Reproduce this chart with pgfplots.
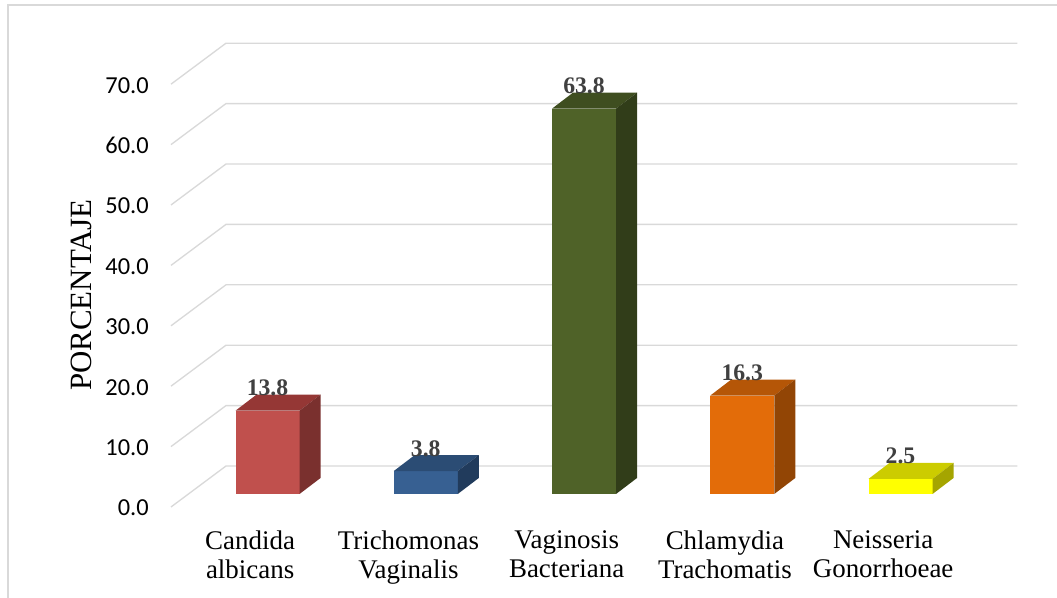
\documentclass[border=0pt]{standalone}
\usepackage{pgfplots}
\pgfplotsset{compat=1.18}
\usepackage{pgfplotstable}
\usepackage{fontspec}
\setmainfont{Liberation Serif}
\newfontfamily\calibri{Carlito}

\definecolor{bf0}{HTML}{C0504D}\definecolor{bt0}{HTML}{953735}\definecolor{bs0}{HTML}{7A302E}
\definecolor{bf1}{HTML}{376092}\definecolor{bt1}{HTML}{2B4C74}\definecolor{bs1}{HTML}{213B5C}
\definecolor{bf2}{HTML}{4F6228}\definecolor{bt2}{HTML}{3F4E20}\definecolor{bs2}{HTML}{313D19}
\definecolor{bf3}{HTML}{E36C09}\definecolor{bt3}{HTML}{B55607}\definecolor{bs3}{HTML}{924505}
\definecolor{bf4}{HTML}{FFFF00}\definecolor{bt4}{HTML}{CCCC00}\definecolor{bs4}{HTML}{A5A500}
\definecolor{gridc}{HTML}{D9D9D9}
\definecolor{lab}{HTML}{404040}

\pgfplotstableread{
x y id
0 13.8 0
1 3.8 1
2 63.8 2
3 16.3 3
4 2.5 4
}\data

% 3D box mark: mark sits at (category, value) on the front plane
\pgfdeclareplotmark{box3d}{%
  \pgfmathsetmacro\hh{\bv*4.53}%
  \pgfmathsetmacro\Bb{9.75-\hh}%
  \pgfmathsetmacro\Bt{\Bb+12}%
  \pgfmathtruncatemacro\ci{\cid}%
  % front
  \pgfpathrectanglecorners{\pgfpoint{-10.95pt}{\Bb pt}}{\pgfpoint{37.05pt}{9.75pt}}%
  \pgfsetfillcolor{bf\ci}\pgfusepath{fill}%
  % top
  \pgfpathmoveto{\pgfpoint{-10.95pt}{9.75pt}}%
  \pgfpathlineto{\pgfpoint{37.05pt}{9.75pt}}%
  \pgfpathlineto{\pgfpoint{52.8pt}{21.75pt}}%
  \pgfpathlineto{\pgfpoint{4.8pt}{21.75pt}}%
  \pgfpathclose
  \pgfsetfillcolor{bt\ci}\pgfusepath{fill}%
  % side
  \pgfpathmoveto{\pgfpoint{37.05pt}{9.75pt}}%
  \pgfpathlineto{\pgfpoint{52.8pt}{21.75pt}}%
  \pgfpathlineto{\pgfpoint{52.8pt}{\Bt pt}}%
  \pgfpathlineto{\pgfpoint{37.05pt}{\Bb pt}}%
  \pgfpathclose
  \pgfsetfillcolor{bs\ci}\pgfusepath{fill}%
}

\begin{document}
\begin{tikzpicture}
\begin{axis}[
  x=118.6875pt, y=4.53pt,
  xmin=-0.5, xmax=4.5, ymin=0, ymax=70,
  clip=false,
  axis line style={draw=none},
  major tick length=0pt,
  tick style={draw=none},
  xtick={0,...,4},
  xticklabels={{Candida\\albicans},{Trichomonas\\Vaginalis},{Vaginosis\\Bacteriana},{Chlamydia\\Trachomatis},{Neisseria\\Gonorrhoeae}},
  xticklabel style={align=center, anchor=north, inner sep=0pt, yshift=-17.5pt, font=\fontsize{20.2}{22}\selectfont, text=black},
  ytick={0,10,...,70},
  /pgf/number format/assume math mode=true,
  yticklabel style={anchor=east, inner sep=0pt, xshift=-16.5pt, yshift=-0.8pt, font=\calibri\fontsize{18.3}{18.3}\selectfont, text=black, /pgf/number format/.cd, fixed, fixed zerofill, precision=1},
]
\coordinate (O) at (axis cs:-0.5,0);
\pgfplotsinvokeforeach{0,10,...,70}{
  \draw[gridc, line width=1pt] (axis cs:-0.5,#1) -- ++(41.25pt,30.75pt) -- ([shift={(41.25pt,30.75pt)}]axis cs:4.5,#1);
}
\addplot[only marks, mark=box3d,
  visualization depends on={\thisrow{y} \as \bv},
  visualization depends on={\thisrow{id} \as \cid},
  point meta=y,
  nodes near coords={\pgfmathprintnumber[fixed,fixed zerofill,precision=1,assume math mode=true]{\pgfplotspointmeta}},
  every node near coord/.append style={font=\bfseries\fontsize{17.8}{18}\selectfont, text=lab, anchor=base, inner sep=0pt, xshift=13.05pt, yshift=21pt},
] table[x=x, y=y] {\data};
\end{axis}
\node[rotate=90, anchor=base, inner sep=0pt, font=\fontsize{23.2}{24}\selectfont] at ([shift={(-59.25pt,159pt)}]O) {PORCENTAJE};
\pgfresetboundingbox
\path[use as bounding box] ([shift={(-128.25pt,-68.25pt)}]O) rectangle ([shift={(664.5pt,380.25pt)}]O);
\draw[gridc, line width=1pt] ([shift={(-122.25pt,-75pt)}]O) -- ([shift={(-122.25pt,376.5pt)}]O) -- ([shift={(680pt,376.5pt)}]O);
\end{tikzpicture}
\end{document}
